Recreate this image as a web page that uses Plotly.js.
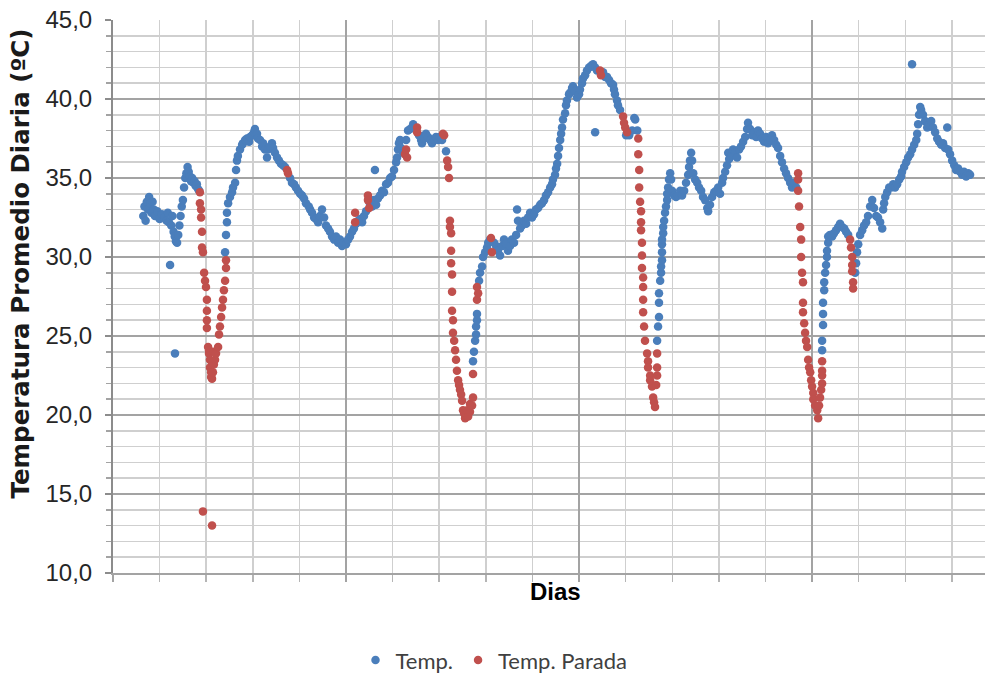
<!DOCTYPE html>
<html>
<head>
<meta charset="utf-8">
<script src="https://cdn.plot.ly/plotly-3.0.1.min.js"></script>
<style>html,body{margin:0;padding:0;background:#fff;}#chart{width:990px;height:675px;}</style>
</head>
<body>
<div id="chart"></div>
<script>
// Day index (x) and daily mean temperature (°C) — series "Temp."
const tempDays = [
13,13.5,14,14.5,15,15.5,16,16.5,17,17.5,18,19,20,21,22,23,23.5,24,25,25.5,26,26.5,27,27.5,24.5,26.6,28,28.5,29,29.5,30,30.5,31,31.5,32,32.5,33,33.5,34,34.5,35,35.5,36,36.5,37,
48.1,48.5,48.9,48.9,49.4,50.2,51.1,51.5,52.4,52.8,53.2,53.6,54.5,55.4,55.8,56.7,57.5,58.4,58.8,59.7,60.5,60.9,61.8,62.2,63.1,64.0,64.4,65.2,66.1,66.5,67.4,68.2,68.7,69.5,70.4,71.2,72.1,73.0,73.8,
76.0,76.8,77.7,78.5,79.4,80.3,81.1,82.0,82.8,84.0,84.6,85.4,86.3,87.1,88.0,88.8,89.7,90.6,91.4,92.3,93.1,94.0,94.9,95.7,96.6,97.4,98.3,99.1,100.0,100.9,101.7,102.6,103.4,104.3,105.2,
106.0,106.9,107.7,108.6,110.3,111.2,112.0,112.9,113.7,114.6,115.5,116.3,117.2,118.0,118.9,119.7,120.6,121.5,121.9,122.3,122.7,123.2,123.6,124.5,112.4,
125.8,126.6,127.5,128.8,129.6,131.3,132.2,132.6,133.5,134.3,135.2,136.1,136.9,137.8,138.6,139.5,140.3,141.2,142.9,
154.5,154.9,155.4,155.8,155.8,156.2,156.2,157.1,157.5,158.4,158.8,159.7,160.5,161.0,161.8,
163.5,164.4,165.2,166.1,167.0,167.8,168.7,169.5,170.4,171.2,172.1,173.0,173.4,173.8,174.7,175.5,176.4,177.3,178.1,179.0,179.8,180.7,181.5,182.4,183.3,184.1,185.0,185.8,186.7,187.6,188.4,188.8,189.7,190.1,190.6,191.0,191.4,191.9,192.3,192.7,193.1,194.0,194.4,194.8,195.7,196.1,197.0,197.4,198.3,199.1,200.0,200.4,201.3,201.7,202.6,203.4,204.3,205.2,206.0,206.9,207.7,206.9,
210.3,211.2,212.0,212.9,213.7,214.6,215.0,215.4,216.3,216.7,217.6,220.2,221.5,222.8,223.7,224.1,225.0,
233.5,233.9,234.3,234.3,234.3,234.8,235.2,235.2,235.6,235.6,235.6,235.6,236.1,236.1,236.5,236.9,237.3,237.8,237.8,238.2,238.6,239.1,239.5,239.9,240.8,241.6,242.5,243.4,244.2,245.1,245.9,246.8,247.2,247.6,248.1,248.5,249.0,249.8,250.7,251.5,252.4,253.2,254.1,255.0,255.4,256.2,257.1,258.0,258.8,259.7,260.5,261.4,261.8,262.7,263.5,264.0,264.4,265.3,266.1,267.0,267.8,268.7,269.5,270.4,271.3,272.1,272.5,273.4,274.3,275.1,276.0,276.8,277.7,278.5,279.4,280.3,281.1,282.0,282.8,283.7,284.6,285.4,286.3,287.1,288.0,288.8,289.7,290.6,291.4,292.3,293.2,
304.3,304.3,304.7,304.7,304.7,305.2,305.2,305.6,306.0,306.4,306.4,306.9,306.9,307.7,308.6,309.4,310.3,311.2,312.0,312.9,313.8,314.6,315.5,
318.5,318.9,319.3,319.8,320.6,321.5,322.3,323.2,324.0,324.9,325.8,326.6,327.5,328.3,329.2,330.1,330.5,330.9,331.4,332.2,333.1,333.9,334.8,335.6,336.5,337.4,338.2,338.6,339.5,340.4,341.2,342.1,342.9,343.8,344.7,345.1,345.5,345.9,346.4,346.8,347.6,348.5,349.4,350.2,351.1,351.9,352.8,353.7,354.5,355.4,356.2,357.1,358.0,358.4,359.2,360.1,361.0,361.8,362.7,363.5,364.4,365.2,366.1,367.0,367.8,342.9
];
const tempValues = [
32.6,33.2,32.3,33.5,33.0,33.8,33.4,32.8,33.5,33.0,32.6,32.9,32.4,32.7,32.5,32.3,32.8,32.2,32.0,32.6,31.6,31.3,31.0,30.9,29.5,23.9,31.4,32.0,32.6,33.2,33.6,34.4,35.0,35.3,35.7,35.4,35.1,34.8,35.0,34.7,34.8,34.5,34.6,34.3,34.2,
30.3,31.4,32.2,32.8,33.4,33.8,34.1,34.4,34.7,35.5,36.1,36.4,36.8,37.1,37.2,37.4,37.5,37.3,37.6,37.7,37.9,38.1,37.8,37.5,37.4,37.0,37.2,36.8,36.3,36.8,37.0,37.2,36.9,36.6,36.3,36.1,35.9,35.8,35.7,
35.0,34.7,34.6,34.4,34.2,34.0,33.9,33.7,33.4,33.2,33.0,32.8,32.5,32.4,32.2,32.6,33.0,32.5,32.0,31.8,31.6,31.3,31.1,31.3,30.9,31.1,30.7,30.9,30.8,31.1,31.3,31.6,31.8,32.1,32.3,
32.4,32.2,32.6,32.9,33.3,33.2,33.6,33.3,33.7,33.9,34.2,34.1,34.6,34.7,35.0,35.1,35.5,36.0,36.3,36.8,37.2,37.4,36.9,36.6,35.5,
37.4,38.0,38.1,38.4,38.2,37.7,37.4,37.2,37.5,37.8,37.6,37.4,37.2,37.4,37.6,37.4,37.6,37.4,36.7,
23.4,24.0,24.7,25.1,25.6,26.0,26.4,28.5,29.0,29.4,30.0,30.3,30.6,30.9,31.1,
30.9,30.7,30.4,30.1,30.7,31.1,30.8,30.4,30.7,31.1,30.9,31.4,33.0,32.3,31.8,32.0,32.3,32.1,32.5,32.8,32.5,32.7,33.0,33.1,33.3,33.4,33.6,33.9,34.1,34.4,34.6,34.9,35.2,35.6,35.9,36.4,36.9,37.4,37.8,38.2,38.7,39.1,39.6,39.9,40.3,40.4,40.7,40.8,40.5,40.1,40.3,40.6,41.0,41.3,41.5,41.8,42.0,42.1,42.2,42.0,41.8,37.9,
41.7,41.4,41.4,41.2,41.0,40.9,40.6,40.3,39.9,39.6,39.3,37.7,37.7,38.0,38.8,38.7,38.0,
24.7,25.6,26.2,27.1,27.7,28.5,29.0,29.4,29.8,30.3,30.8,31.1,31.5,31.9,32.3,32.8,33.2,33.6,34.0,34.4,34.9,35.3,34.9,34.2,33.9,33.8,33.9,34.2,33.9,34.2,34.7,35.2,35.7,36.1,36.6,36.1,35.3,34.9,34.7,34.4,34.2,33.8,33.6,33.1,32.9,33.3,33.8,34.1,34.2,34.4,34.0,34.7,35.0,35.4,35.8,36.6,36.2,36.4,36.8,36.6,36.3,36.8,37.0,37.3,37.6,38.1,38.5,38.1,37.7,37.9,37.6,38.0,37.8,37.5,37.3,37.6,37.2,37.4,37.7,37.4,37.1,36.9,36.4,36.0,35.6,35.3,35.0,34.7,34.4,34.7,34.4,
24.1,24.7,25.7,26.4,27.1,27.9,28.4,29.0,29.5,30.0,30.4,30.9,31.3,31.4,31.3,31.5,31.7,31.9,32.1,31.9,31.8,31.6,31.4,
29.0,29.6,30.3,30.8,31.4,31.7,32.0,32.2,32.6,33.2,33.6,33.1,32.6,32.5,32.2,31.8,33.0,33.4,33.8,34.1,34.4,34.4,34.6,34.4,34.6,34.9,35.1,35.4,35.7,36.0,36.3,36.5,36.8,37.1,37.4,37.8,38.4,39.0,39.5,39.3,39.0,38.6,38.2,38.4,38.6,38.2,37.9,37.5,37.3,37.1,37.2,36.9,38.2,36.8,36.5,36.1,35.8,35.5,35.6,35.4,35.2,35.4,35.1,35.3,35.2,42.2
];

// Series "Temp. Parada"
const paradaDays = [
37.3,37.3,37.8,37.8,38.2,38.2,38.6,39.1,39.5,39.9,40.3,40.3,40.3,40.3,40.8,41.2,41.2,41.6,41.6,42.1,42.1,42.5,42.5,42.9,43.3,43.3,43.8,44.2,45.1,45.5,45.9,46.4,46.8,47.2,47.6,48.1,48.5,48.5,38.6,42.5,
75.1,74.7,103.9,103.9,109.4,109.9,109.4,125.3,126.2,125.8,130.5,130.5,142.1,141.6,
143.4,143.8,144.2,144.6,144.6,145.1,145.1,145.1,145.5,145.5,145.5,145.9,145.9,146.4,146.8,147.2,147.6,148.1,148.5,148.9,149.4,149.8,150.2,150.7,151.1,151.5,152.0,152.4,153.2,153.2,154.1,154.5,154.5,156.2,156.7,156.2,162.2,162.6,
209.0,209.4,218.9,219.3,219.8,220.6,
225.4,225.4,225.8,225.8,226.2,226.6,226.6,226.6,227.0,227.0,227.0,227.5,227.5,227.5,227.5,227.9,228.3,229.2,229.6,229.6,230.5,230.5,231.3,231.8,232.2,232.6,233.1,233.5,233.5,233.5,
294.0,294.0,294.0,294.4,294.9,295.3,295.3,295.7,296.1,296.1,296.1,296.6,297.0,297.4,297.9,298.3,298.7,299.2,299.6,300.0,300.5,300.5,301.3,302.2,302.6,303.0,303.4,303.9,304.3,304.3,304.3,304.3,
316.3,316.7,317.2,317.2,317.2,317.6,317.6
];
const paradaValues = [
34.1,33.4,33.0,32.5,31.6,30.6,30.3,29.0,28.5,28.1,27.3,26.6,26.0,25.5,24.3,23.9,24.1,23.5,23.0,22.7,22.4,22.3,23.3,22.7,23.2,24.0,23.5,23.9,24.3,25.1,25.6,26.2,26.8,27.3,27.9,28.5,29.3,29.8,13.9,13.0,
35.3,35.5,32.8,32.2,33.6,33.1,33.9,36.5,36.3,36.8,38.2,37.9,37.7,37.8,
36.1,35.7,35.0,32.3,31.9,31.5,30.4,29.6,28.9,27.8,26.6,26.0,25.2,24.7,24.1,23.5,22.8,22.2,21.9,21.6,21.3,20.9,20.3,20.1,19.8,20.0,20.3,19.9,20.2,20.7,20.6,21.1,22.6,27.3,27.7,28.1,31.2,30.3,
41.8,41.5,38.9,38.5,38.2,37.9,
37.5,36.5,35.5,34.4,33.5,32.9,32.2,31.7,30.9,30.1,29.3,28.7,28.1,27.3,26.5,25.6,24.7,23.9,23.4,23.0,22.5,22.2,21.8,21.1,20.8,20.5,21.9,22.5,23.0,23.9,
35.3,34.9,34.2,33.2,31.9,31.1,30.0,29.0,28.4,27.1,26.5,25.8,25.2,24.7,24.3,23.5,23.0,22.7,22.2,21.8,21.4,21.0,20.6,20.3,19.8,20.6,21.1,21.6,22.0,22.5,22.8,23.4,
31.1,30.6,30.0,29.5,29.1,28.4,28.0
];

const seriesNames = ['Temp.', 'Temp. Parada'];
const yTitle = 'Temperatura Promedio Diaria (ºC)';
const xTitle = 'Dias';

const traces = [
  {x: tempDays, y: tempValues, name: seriesNames[0], type: 'scatter', mode: 'markers',
   marker: {color: '#4a7ebb', size: 8.5}},
  {x: paradaDays, y: paradaValues, name: seriesNames[1], type: 'scatter', mode: 'markers',
   marker: {color: '#c0504d', size: 8.5}}
];

const layout = {
  width: 990, height: 675,
  margin: {l: 113, r: 5, t: 20, b: 102},
  paper_bgcolor: '#fff', plot_bgcolor: '#fff',
  separators: ', ',
  showlegend: true,
  legend: {orientation: 'h', xref: 'container', yref: 'container', x: 0.499, xanchor: 'center',
           y: 0.022, yanchor: 'middle', font: {family: 'Lato, sans-serif', size: 22, color: '#404040'},
           itemwidth: 30},
  xaxis: {
    range: [0, 374.2], tick0: 0, dtick: 100, showticklabels: false,
    showgrid: true, gridcolor: '#a3a3a3', gridwidth: 1.5,
    ticks: 'outside', ticklen: 7, tickcolor: '#a3a3a3', tickwidth: 1.5,
    showline: true, linecolor: '#a3a3a3', linewidth: 1.5, zeroline: false,
    minor: {dtick: 20, showgrid: true, gridcolor: '#cfcfcf', gridwidth: 1.5,
            ticks: 'outside', ticklen: 7, tickcolor: '#b5b5b5', tickwidth: 1.5}
  },
  yaxis: {
    range: [10, 45], tick0: 10, dtick: 5, tickformat: '.1f',
    showgrid: true, gridcolor: '#a3a3a3', gridwidth: 1.5,
    ticks: 'outside', ticklen: 6, tickcolor: '#8c8c8c', tickwidth: 1.5,
    showline: true, linecolor: '#8c8c8c', linewidth: 2, zeroline: false,
    tickfont: {family: 'Liberation Sans, Arial, sans-serif', size: 24, color: '#262626'},
    ticklabelstandoff: 8,
    minor: {dtick: 1, showgrid: true, gridcolor: '#cfcfcf', gridwidth: 1.5,
            ticks: 'outside', ticklen: 5, tickcolor: '#a3a3a3', tickwidth: 1.5}
  },
  annotations: [
    {text: '<b>' + yTitle + '</b>', textangle: -90, showarrow: false,
     xref: 'paper', yref: 'paper', x: 0, y: 0.5597, xanchor: 'center', yanchor: 'middle', xshift: -93,
     font: {family: 'DejaVu Sans, sans-serif', size: 24.5, color: '#1a1a1a'}},
    {text: '<b>' + xTitle + '</b>', showarrow: false,
     xref: 'paper', yref: 'paper', x: 0.5069, y: 0, xanchor: 'center', yanchor: 'middle', yshift: -18,
     font: {family: 'Liberation Sans, Arial, sans-serif', size: 24, color: '#000'}}
  ]
};

Plotly.newPlot('chart', traces, layout, {displayModeBar: false, staticPlot: true});
</script>
</body>
</html>
